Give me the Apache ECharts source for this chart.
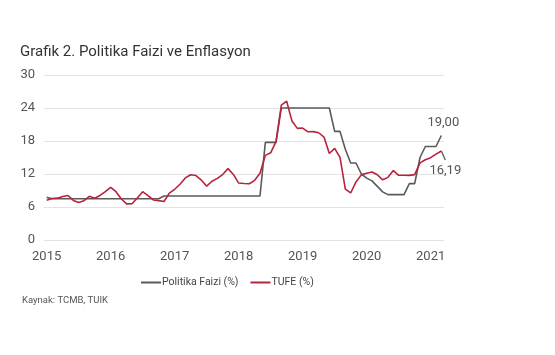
<!DOCTYPE html>
<html>
<head>
<meta charset="utf-8">
<script src="https://cdn.jsdelivr.net/npm/echarts@6/dist/echarts.min.js"></script>
<style>
html,body{margin:0;padding:0;background:#fff;}
#c{width:555px;height:355px;}
</style>
</head>
<body>
<div id="c"></div>
<script>
// Tick labels (years) and monthly categories Jan 2015 - Mar 2021
var years = ['2015','2016','2017','2018','2019','2020','2021'];
var categories = [];
years.forEach(function(y){
  for (var m = 1; m <= 12; m++) {
    if (y === '2021' && m > 3) break;
    categories.push(y + '-' + (m < 10 ? '0' + m : m));
  }
});

// Politika Faizi (%) - monthly
var politikaFaizi = [
  7.75,7.5,7.5,7.5,7.5,7.5,7.5,7.5,7.5,7.5,7.5,7.5,
  7.5,7.5,7.5,7.5,7.5,7.5,7.5,7.5,7.5,7.5,8.0,8.0,
  8.0,8.0,8.0,8.0,8.0,8.0,8.0,8.0,8.0,8.0,8.0,8.0,
  8.0,8.0,8.0,8.0,8.0,17.75,17.75,17.75,24,24,24,24,
  24,24,24,24,24,24,19.75,19.75,16.5,14,14,12,
  11.25,10.75,9.75,8.75,8.25,8.25,8.25,8.25,10.25,10.25,15,17,
  17,17,19
];

// TUFE (%) - monthly
var tufe = [
  7.24,7.55,7.61,7.91,8.09,7.20,6.81,7.14,7.95,7.58,8.10,8.81,
  9.58,8.78,7.46,6.57,6.58,7.64,8.79,8.05,7.28,7.16,7.00,8.53,
  9.22,10.13,11.29,11.87,11.72,10.90,9.79,10.68,11.20,11.90,12.98,11.92,
  10.35,10.26,10.23,10.85,12.15,15.39,15.85,17.90,24.52,25.24,21.62,20.30,
  20.35,19.67,19.71,19.50,18.71,15.72,16.65,15.01,9.26,8.55,10.56,11.84,
  12.15,12.37,11.86,10.94,11.39,12.62,11.76,11.77,11.75,11.89,14.03,14.60,
  14.97,15.61,16.19
];

var yTicks = [0, 6, 12, 18, 24, 30];
var seriesNames = ['Politika Faizi (%)', 'TUFE (%)'];
var grayColor = '#5a5a5a';
var redColor = '#b8233c';

function fmt(v){ return v.toFixed(2).replace('.', ','); }

function withEndLabel(arr, labelOpt){
  return arr.map(function(v, i){
    if (i === arr.length - 1) {
      return { value: v, label: Object.assign({ show: true, formatter: fmt(v) }, labelOpt) };
    }
    return v;
  });
}

var chart = echarts.init(document.getElementById('c'), null, {renderer: 'canvas'});
var sourceGraphic = {
  id: 'src', type: 'text', left: 22, top: 296,
  style: { text: 'Kaynak: TCMB, TUIK', font: '9.5px Roboto', fill: '#555' }
};
chart.setOption({
  backgroundColor: '#ffffff',
  animation: false,
  title: {
    text: 'Grafik 2. Politika Faizi ve Enflasyon',
    left: 15, top: 40,
    textStyle: { fontFamily: 'Roboto', fontSize: 15, fontWeight: 'normal', color: '#333' }
  },
  graphic: [sourceGraphic],
  legend: {
    left: 141, top: 277, padding: 0,
    itemWidth: 20, itemHeight: 2, itemGap: 12,
    icon: 'rect',
    textStyle: { fontFamily: 'Roboto', fontSize: 10.5, color: '#444', padding: [0,0,0,-4] },
    data: [
      { name: seriesNames[0], itemStyle: { color: grayColor } },
      { name: seriesNames[1], itemStyle: { color: redColor } }
    ]
  },
  grid: { left: 44, top: 75, width: 400, height: 165, containLabel: false },
  xAxis: {
    type: 'category',
    data: categories,
    boundaryGap: true,
    axisLine: { show: false },
    axisTick: { show: false },
    axisLabel: {
      interval: function(i){ return i % 12 === 0; },
      formatter: function(v){ return v.slice(0,4); },
      margin: 10,
      fontFamily: 'Roboto', fontSize: 13, color: '#555'
    },
    splitLine: { show: false }
  },
  yAxis: {
    type: 'value',
    min: yTicks[0], max: yTicks[yTicks.length-1], interval: 6,
    axisLine: { show: false },
    axisTick: { show: false },
    axisLabel: { margin: 9, fontFamily: 'Roboto', fontSize: 13, color: '#555' },
    splitLine: { lineStyle: { color: '#e3e3e3', width: 1 } }
  },
  series: [
    {
      name: seriesNames[0], type: 'line',
      symbol: 'circle', symbolSize: 0, showSymbol: true,
      lineStyle: { color: grayColor, width: 1.6 },
      itemStyle: { color: grayColor },
      data: withEndLabel(politikaFaizi, {
        position: 'top', distance: 6, offset: [2, 0], fontFamily: 'Roboto', fontSize: 13, color: '#555'
      })
    },
    {
      name: seriesNames[1], type: 'line',
      symbol: 'circle', symbolSize: 0, showSymbol: true,
      lineStyle: { color: redColor, width: 1.6 },
      itemStyle: { color: redColor },
      data: withEndLabel(tufe, {
        position: 'bottom', distance: 13, offset: [4, 0], fontFamily: 'Roboto', fontSize: 13, color: '#555'
      })
    }
  ]
});

// Leader tick from the last TUFE point toward its label, anchored via the axis scales
var last = tufe.length - 1;
var p = chart.convertToPixel({ gridIndex: 0 }, [categories[last], tufe[last]]);
chart.setOption({
  graphic: [sourceGraphic, {
    id: 'leader', type: 'line',
    shape: { x1: p[0], y1: p[1], x2: p[0] + 4, y2: p[1] + 9 },
    style: { stroke: '#555', lineWidth: 1.3 }
  }]
});
</script>
</body>
</html>
